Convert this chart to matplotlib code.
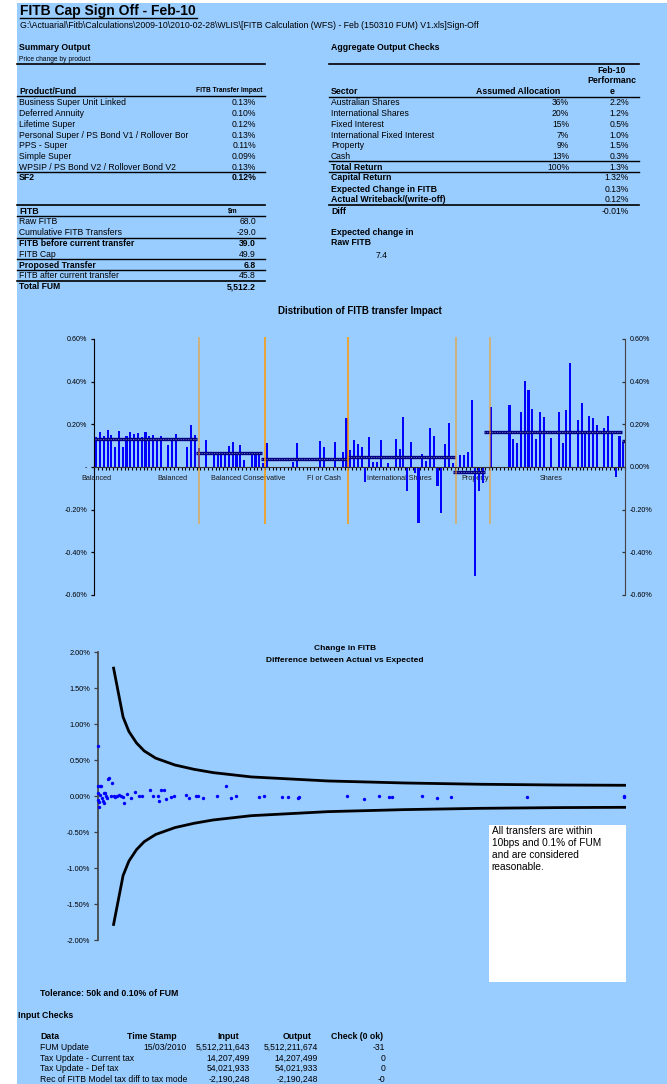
import matplotlib
matplotlib.use('Agg')
import matplotlib.pyplot as plt
from matplotlib.patches import Rectangle
from matplotlib.lines import Line2D
import numpy as np

plt.rcParams['font.family'] = ['Liberation Sans', 'DejaVu Sans']

W, H = 667, 1084
BG = '#99CCFF'

# ---------------- data ----------------
title = "FITB Cap Sign Off - Feb-10"
path_text = r"G:\Actuarial\Fitb\Calculations\2009-10\2010-02-28\WLIS\[FITB Calculation (WFS) - Feb (150310 FUM) V1.xls]Sign-Off"

products = ["Business Super Unit Linked", "Deferred Annuity", "Lifetime Super",
            "Personal Super / PS Bond V1 / Rollover Bor", "PPS - Super", "Simple Super",
            "WPSIP / PS Bond V2 / Rollover Bond V2"]
product_impact = ["0.13%", "0.10%", "0.12%", "0.13%", "0.11%", "0.09%", "0.13%"]
sf2_impact = "0.12%"

fitb_rows = ["Raw FITB", "Cumulative FITB Transfers", "FITB before current transfer",
             "FITB Cap", "Proposed Transfer", "FITB after current transfer", "Total FUM"]
fitb_values = ["68.0", "-29.0", "39.0", "49.9", "6.8", "45.8", "5,512.2"]
fitb_bold = [False, False, True, False, True, False, True]

sectors = ["Australian Shares", "International Shares", "Fixed Interest",
           "International Fixed Interest", "Property", "Cash"]
allocation = ["36%", "20%", "15%", "7%", "9%", "13%"]
performance = ["2.2%", "1.2%", "0.5%", "1.0%", "1.5%", "0.3%"]
total_row = ["Total Return", "100%", "1.3%"]
check_rows = ["Capital Return", "Expected Change in FITB", "Actual Writeback/(write-off)", "Diff"]
check_values = ["1.32%", "0.13%", "0.12%", "-0.01%"]
expected_raw = "7.4"

# bar chart: FITB transfer impact (%) per fund
group_names = ["Balanced", "Balanced Conservative", "FI or Cash", "International Shares", "Property", "Shares"]
group_sizes = [28, 17, 22, 28, 9, 36]
bar_values = [
    0.142, 0.166, 0.147, 0.175, 0.152, 0.095, 0.170, 0.095, 0.147, 0.166,
    0.156, 0.161, 0.142, 0.166, 0.147, 0.152, 0.128, 0.147, 0.0, 0.105,
    0.138, 0.156, 0.0, 0.0, 0.095, 0.198, 0.152, 0.091, 0.0, 0.128,
    0.0, 0.061, 0.061, 0.061, 0.061, 0.100, 0.119, 0.061, 0.105, 0.034,
    0.0, 0.063, 0.067, 0.061, 0.020, 0.114, 0.0, 0.0, 0.0, 0.0,
    0.0, 0.0, 0.023, 0.113, 0.0, 0.0, 0.0, 0.0, 0.0, 0.122,
    0.094, 0.0, 0.0, 0.117, 0.0, 0.070, 0.230, 0.080, 0.127, 0.108,
    0.094, -0.070, 0.141, 0.023, 0.023, 0.127, 0.0, 0.019, 0.0, 0.131,
    0.084, 0.234, -0.113, 0.117, -0.028, -0.263, 0.061, 0.028, 0.183, 0.145,
    -0.089, -0.216, 0.108, 0.205, 0.017, 0.0, 0.055, 0.055, 0.069, 0.313,
    -0.511, -0.113, -0.075, 0.0, 0.280, 0.0, 0.0, 0.0, 0.0, 0.289,
    0.130, 0.111, 0.256, 0.402, 0.359, 0.270, 0.130, 0.256, 0.233, 0.0,
    0.134, 0.0, 0.256, 0.111, 0.266, 0.486, 0.0, 0.219, 0.298, 0.153,
    0.238, 0.228, 0.195, 0.0, 0.181, 0.238, 0.167, -0.047, 0.144, 0.123,
]
label_every = 20
# group average lines (start, end in category units, value %)
avg_start = [-0.3, 26.4, 43.4, 66.5, 94.2, 102.3, 138.6]
avg_end = [26.7, 43.7, 66.5, 94.6, 102.5, 138.6, 139.5]
avg_value = [0.130, 0.064, 0.038, 0.045, -0.024, 0.165, 0.123]
# group separators
sep_x = [27.0, 44.4, 66.5, 94.9, 103.85]
sep_bottom = -0.265
sep_top = 0.61

# scatter: difference between actual and expected change in FITB
scatter_x = [0, 0, 3.6, 6.4, 2.8, 0, 0.7, 8, 10.8, 12.3, 15.2, 18.2, 21, 26.8, 29.7,
             37, 44, 50, 55, 62, 69.5, 77, 84, 99, 104, 113, 115, 120, 126, 129,
             138, 144, 167, 172.5, 185.6, 189, 198.5, 225, 243.5, 252, 261.6, 305, 314,
             348.7, 359.5, 379, 381, 472, 504, 532, 551, 556.6, 613, 642, 668, 812.7,
             995.8, 995.8, 1.5, 4.5, 9, 14, 17, 24, 33, 40, 47]
scatter_y = [0.694, 0.148, 0.148, 0.148, -0.144, -0.05, 0.04, -0.028, 0.042, -0.097, 0.0,
             0.241, 0.25, 0.18, 0.0, 0.01, 0.0, -0.097, 0.028, -0.028, 0.06, 0.0, 0.0,
             0.083, 0.0, 0.0, -0.065, 0.083, 0.093, -0.042, -0.014, 0.0, 0.014, -0.023,
             0.01, 0.0, -0.023, 0.005, 0.139, -0.019, 0.0, -0.009, 0.005, -0.009, -0.009,
             -0.028, -0.014, 0.01, -0.032, 0.01, -0.009, -0.014, 0.0, -0.019, -0.009,
             -0.014, 0.01, -0.014, -0.08, 0.02, -0.06, 0.05, -0.02, 0.01, -0.01, 0.02, -0.015]
tol_x = [29.7, 47.7, 58.7, 73.2, 87.7, 109.4, 145.7, 181.9, 218.1, 290.6, 435.6,
         580.6, 725.5, 870.5, 999.4]
tol_upper = [1.78, 1.10, 0.90, 0.74, 0.63, 0.53, 0.435, 0.375, 0.329, 0.269, 0.213,
             0.185, 0.167, 0.157, 0.153]
note_text = "All transfers are within\n10bps and 0.1% of FUM\nand are considered\nreasonable."

tolerance_text = "Tolerance: 50k and 0.10% of FUM"
input_header = ["Data", "Time Stamp", "Input", "Output", "Check (0 ok)"]
input_data = ["FUM Update", "Tax Update - Current tax", "Tax Update - Def tax",
              "Rec of FITB Model tax diff to tax mode"]
input_stamp = ["15/03/2010", "", "", ""]
input_in = ["5,512,211,643", "14,207,499", "54,021,933", "-2,190,248"]
input_out = ["5,512,211,674", "14,207,499", "54,021,933", "-2,190,248"]
input_check = ["-31", "0", "0", "-0"]

# ---------------- figure ----------------
fig = plt.figure(figsize=(W / 100, H / 100), dpi=100)
fig.patch.set_facecolor('white')


def X(px):
    return px / W


def Y(py):
    return 1 - py / H


fig.patches.append(Rectangle((X(17), 0), 1 - X(17), Y(3), transform=fig.transFigure,
                             facecolor=BG, edgecolor='none', zorder=-10))


def txt(x, y, s, size=6.2, weight='normal', ha='left', color='black'):
    fig.text(X(x), Y(y), s, fontsize=size, fontweight=weight, ha=ha, va='center', color=color)


def hline(y, x0, x1, lw=1.0):
    fig.add_artist(Line2D([X(x0), X(x1)], [Y(y), Y(y)], color='black', lw=lw,
                          transform=fig.transFigure))


# header
txt(20, 11, title, size=10, weight='bold')
hline(18, 20, 197, lw=1.0)
txt(20, 26, path_text, size=6.3)

# left summary table
txt(19, 48, "Summary Output", size=6.3, weight='bold')
txt(19, 59.5, "Price change by product", size=4.8)
hline(63.7, 17, 265, lw=1.2)
txt(19, 91, "Product/Fund", size=6.3, weight='bold')
txt(262, 91, "FITB Transfer Impact", size=4.8, weight='bold', ha='right')
hline(96.3, 17, 265, lw=1.0)
row_y = [102.7, 113.5, 124.3, 135.1, 145.9, 156.7, 167.5]
for yy, name, val in zip(row_y, products, product_impact):
    txt(19, yy, name)
    txt(256, yy, val, ha='right')
hline(172.3, 17, 265, lw=1.0)
txt(19, 178, "SF2", size=6.3, weight='bold')
txt(256, 178, sf2_impact, size=6.3, weight='bold', ha='right')

hline(205, 17, 265, lw=1.2)
txt(19, 211, "FITB", size=6.3, weight='bold')
txt(238, 211, "$m", size=4.8, weight='bold', ha='right')
hline(216, 17, 265, lw=1.0)
fitb_y = [221.7, 232.7, 243, 254.7, 265, 276, 286.7]
for yy, name, val, b in zip(fitb_y, fitb_rows, fitb_values, fitb_bold):
    txt(19, yy, name, weight='bold' if b else 'normal')
    txt(256, yy, val, weight='bold' if b else 'normal', ha='right')
for yy in [237.7, 258.7, 270]:
    hline(yy, 17, 265, lw=1.0)
hline(281, 17, 265, lw=1.2)

# right aggregate table
txt(331, 47.3, "Aggregate Output Checks", size=6.3, weight='bold')
hline(64, 329, 639, lw=1.2)
txt(612, 70.7, "Feb-10", size=6.3, weight='bold', ha='center')
txt(612, 80.7, "Performanc", size=6.3, weight='bold', ha='center')
txt(612, 91, "e", size=6.3, weight='bold', ha='center')
txt(331, 91, "Sector", size=6.3, weight='bold')
txt(560.7, 91, "Assumed Allocation", size=6.3, weight='bold', ha='right')
hline(96.7, 329, 639, lw=1.0)
for yy, name, a, p in zip(row_y[:6], sectors, allocation, performance):
    txt(331, yy, name)
    txt(569, yy, a, ha='right')
    txt(629, yy, p, ha='right')
hline(161, 329, 639, lw=1.0)
txt(331, 167.3, total_row[0], size=6.3, weight='bold')
txt(569, 167.3, total_row[1], ha='right')
txt(629, 167.3, total_row[2], ha='right')
hline(172.3, 329, 639, lw=1.0)
for yy, name, v in zip([178, 189, 200, 211], check_rows, check_values):
    txt(331, yy, name, size=6.3, weight='bold')
    txt(629, yy, v, ha='right')
hline(204.7, 329, 639, lw=1.2)
txt(331, 232.7, "Expected change in", size=6.3, weight='bold')
txt(331, 242.7, "Raw FITB", size=6.3, weight='bold')
txt(382, 255, expected_raw, ha='center')

# ---------------- bar chart ----------------
fig.text(X(359.6), Y(310.7), "Distribution of FITB transfer Impact", fontsize=7,
         fontweight='bold', ha='center', va='center')
categories = []
for g, n in zip(group_names, group_sizes):
    categories += [g] * n
n_cat = len(bar_values)
xs = np.arange(n_cat)

axb = fig.add_axes([X(94.3), Y(595), X(625.2) - X(94.3), (595 - 339) / H])
axb.set_facecolor('none')
axb.bar(xs, bar_values, width=0.55, color='#0000FF', zorder=2)
for s, e, v in zip(avg_start, avg_end, avg_value):
    axb.plot([s, e], [v, v], color='#000080', lw=2.4, zorder=3, solid_capstyle='butt')
    axb.plot([s, e], [v, v], color='#6C6CB8', lw=0.6, ls=(0, (1.5, 1.5)), zorder=4)
sep_alpha = [0.55, 0.85, 0.85, 0.55, 0.55]
for sx, a in zip(sep_x, sep_alpha):
    axb.plot([sx, sx], [sep_bottom, sep_top], color='#FF9900', lw=1.3, alpha=a,
             zorder=5, clip_on=False, solid_capstyle='butt')
axb.set_xlim(-0.5, n_cat - 0.5)
axb.set_ylim(-0.6, 0.6)
axb.spines['top'].set_visible(False)
axb.spines['right'].set_visible(False)
axb.spines['bottom'].set_position(('data', 0))
axb.spines['bottom'].set_color('#333333')
axb.spines['bottom'].set_zorder(6)
axb.spines['left'].set_color('black')
lab_pos = list(range(0, n_cat, label_every))
axb.set_xticks(lab_pos)
axb.set_xticklabels([categories[i] for i in lab_pos], fontsize=5.2, color='#1a1a1a')
axb.set_xticks(np.arange(-0.5, n_cat, 1), minor=True)
axb.tick_params(axis='x', which='major', length=0, pad=5.5)
axb.tick_params(axis='x', which='minor', length=2.0, width=0.8, direction='out', color='black')
yt = [-0.6, -0.4, -0.2, 0, 0.2, 0.4, 0.6]
axb.set_yticks(yt)
axb.set_yticklabels(['-0.60%', '-0.40%', '-0.20%', '-', '0.20%', '0.40%', '0.60%'], fontsize=5.1)
axb.tick_params(axis='y', length=2.5, width=0.9, pad=2.5, direction='out')
axr = axb.twinx()
axr.set_ylim(-0.6, 0.6)
axr.set_yticks(yt)
axr.set_yticklabels(['-0.60%', '-0.40%', '-0.20%', '0.00%', '0.20%', '0.40%', '0.60%'], fontsize=5.1)
axr.tick_params(axis='y', length=2.5, width=0.9, pad=3.5, direction='in', color='#333333')
for sp in ['top', 'left', 'bottom']:
    axr.spines[sp].set_visible(False)
axr.spines['right'].set_color('#444444')
axr.set_facecolor('none')

# ---------------- scatter chart ----------------
fig.text(X(345), Y(649), "Change in FITB", fontsize=6, fontweight='bold', ha='center', va='center')
fig.text(X(345), Y(660), "Difference between Actual vs Expected", fontsize=6,
         fontweight='bold', ha='center', va='center')
fig.patches.append(Rectangle((X(489), Y(982)), X(625.6) - X(489), (982 - 825) / H,
                             transform=fig.transFigure, facecolor='white', edgecolor='none', zorder=1))
fig.text(X(491.5), Y(826), note_text, fontsize=7.3, ha='left', va='top', linespacing=1.25, zorder=2)

axs = fig.add_axes([X(97.9), Y(940.3), X(626) - X(97.9), (940.3 - 652.3) / H])
axs.set_facecolor('none')
axs.plot(tol_x, tol_upper, color='black', lw=2, solid_joinstyle='round')
axs.plot(tol_x, [-v for v in tol_upper], color='black', lw=2, solid_joinstyle='round')
axs.scatter(scatter_x, scatter_y, s=6, color='#0000FF', zorder=3, clip_on=False, linewidths=0)
axs.set_xlim(0, 1000)
axs.set_ylim(-2, 2)
for sp in ['top', 'right', 'bottom']:
    axs.spines[sp].set_visible(False)
axs.spines['left'].set_color('#404040')
axs.spines['left'].set_linewidth(1.2)
axs.set_xticks([])
syt = [-2, -1.5, -1, -0.5, 0, 0.5, 1, 1.5, 2]
axs.set_yticks(syt)
axs.set_yticklabels(['%.2f%%' % v for v in syt], fontsize=5.3)
axs.tick_params(axis='y', length=3, width=0.9, pad=2.5, direction='out', color='#404040')

# ---------------- bottom text ----------------
txt(40, 994, tolerance_text, size=6.3, weight='bold')
txt(18.3, 1015, "Input Checks", size=6.3, weight='bold')
hdr_x = [40, 152, 228, 297, 357]
hdr_ha = ['left', 'center', 'center', 'center', 'center']
for hx, h, ha in zip(hdr_x, input_header, hdr_ha):
    txt(hx, 1036.7, h, size=6.3, weight='bold', ha=ha)
in_y = [1047.3, 1058.3, 1068.3, 1079]
for yy, d, st, a, b, c in zip(in_y, input_data, input_stamp, input_in, input_out, input_check):
    txt(40, yy, d)
    txt(187, yy, st, ha='right')
    txt(250, yy, a, ha='right')
    txt(318, yy, b, ha='right')
    txt(385, yy, c, ha='right')

fig.savefig('out.png', dpi=100, facecolor=fig.get_facecolor())
